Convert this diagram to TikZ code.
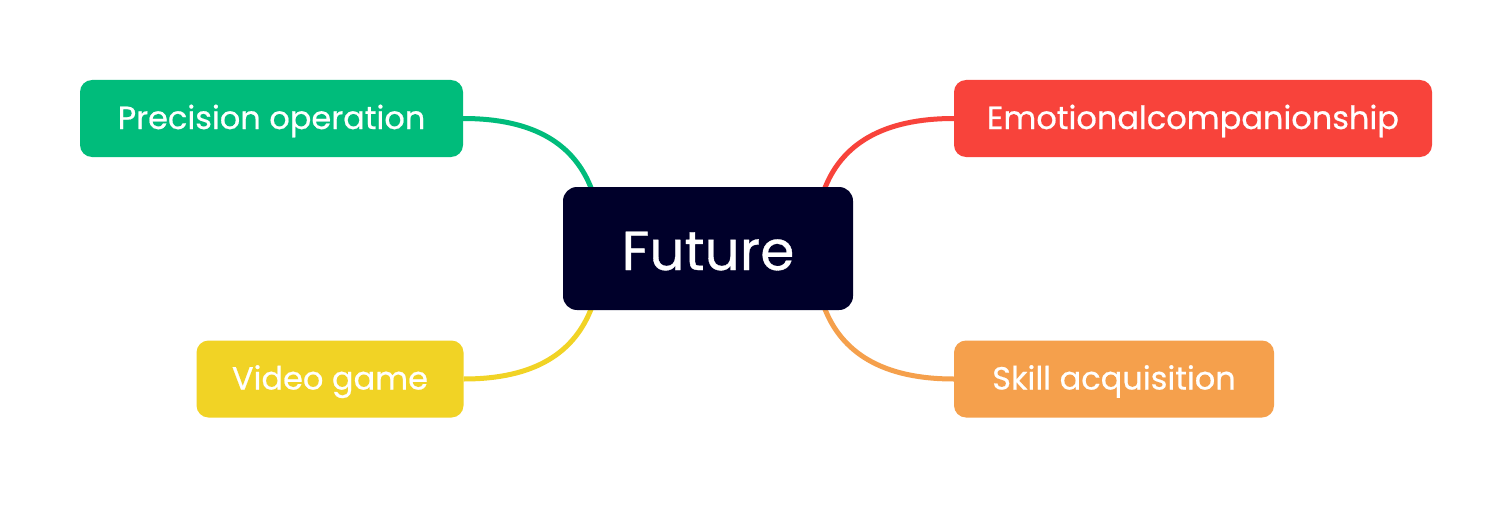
\documentclass[tikz,border=0pt]{standalone}
\usepackage{fontspec}
\setmainfont{Poppins}
\newfontfamily\medfont[BoldFont=Poppins, BoldFeatures={FakeBold=0.6}]{Poppins}
\usetikzlibrary{calc,backgrounds}
\definecolor{cgreen}{HTML}{00BC7B}
\definecolor{cred}{HTML}{F8433B}
\definecolor{cyellow}{HTML}{F1D325}
\definecolor{corange}{HTML}{F5A04C}
\definecolor{cnavy}{HTML}{00002A}
\tikzset{
  leaf/.style={fill=#1, text=white, rounded corners=12pt, minimum height=77pt, inner sep=0pt, text height=22pt, text depth=1pt, font=\medfont\bfseries\fontsize{32}{38}\selectfont},
  hub/.style={fill=cnavy, text=white, rounded corners=14pt, minimum width=290pt, minimum height=123pt, inner sep=0pt, text height=43pt, text depth=0pt, font=\medfont\bfseries\fontsize{55}{64}\selectfont},
  link/.style={draw=#1, line width=5pt}
}
\begin{document}
\begin{tikzpicture}[x=1pt,y=-1pt]
\useasboundingbox (0,0) rectangle (1505,519);
\node[hub] (c) at (708,248.5) {Future};
\node[leaf=cgreen, minimum width=383pt] (po) at (271.5,118.5) {Precision operation};
\node[leaf=cred, minimum width=478pt] (ec) at (1193,118.5) {Emotionalcompanionship};
\node[leaf=cyellow, minimum width=267pt] (vg) at (330,379) {Video game};
\node[leaf=corange, minimum width=320pt] (sa) at (1114,379) {Skill acquisition};
\begin{scope}[on background layer]
\fill[white] (0,0) rectangle (1505,519);
\draw[link=cgreen] (po.east) .. controls ($(po.east)+(72,0)$) and ($(c.north west)+(12,-42)$) .. ($(c.north west)+(29,3)$);
\draw[link=cred] (ec.west) .. controls ($(ec.west)+(-72,0)$) and ($(c.north east)+(-12,-42)$) .. ($(c.north east)+(-29,3)$);
\draw[link=cyellow] (vg.east) .. controls ($(vg.east)+(72,0)$) and ($(c.south west)+(12,42)$) .. ($(c.south west)+(29,-3)$);
\draw[link=corange] (sa.west) .. controls ($(sa.west)+(-72,0)$) and ($(c.south east)+(-12,42)$) .. ($(c.south east)+(-29,-3)$);
\end{scope}
\end{tikzpicture}
\end{document}
